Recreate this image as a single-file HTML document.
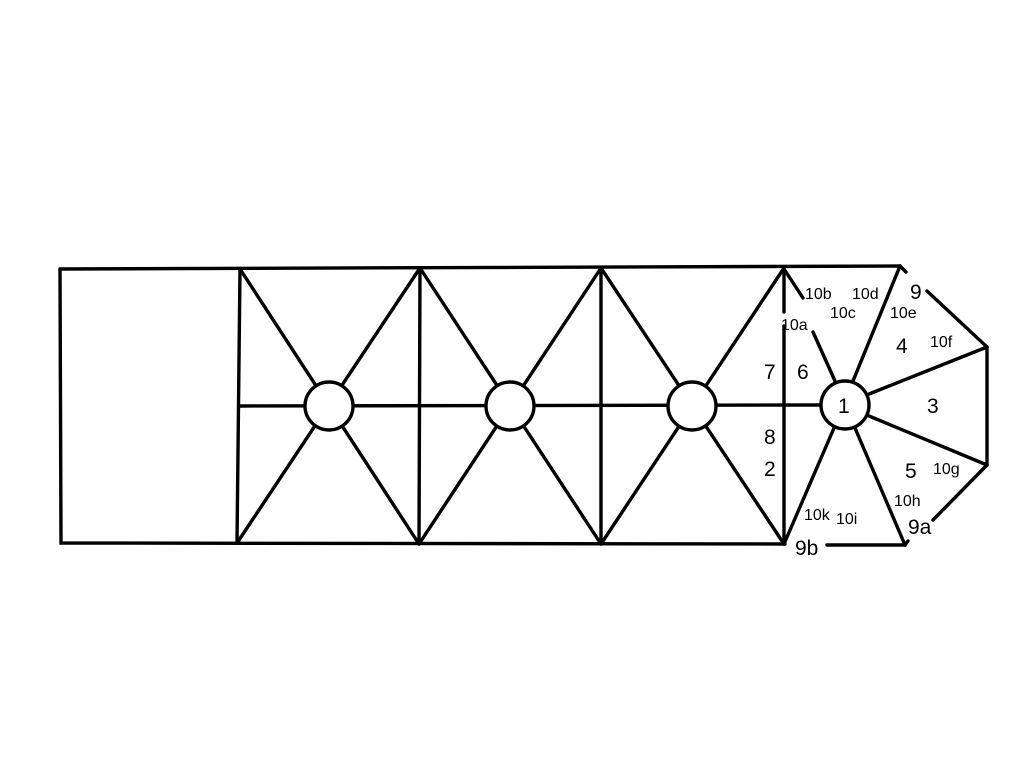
<!DOCTYPE html>
<html><head><style>
html,body{margin:0;padding:0;background:#fff;}
svg{display:block}
text{font-family:"Liberation Sans",sans-serif;fill:#000;}
</style></head><body>
<svg width="1024" height="768" viewBox="0 0 1024 768" xmlns="http://www.w3.org/2000/svg">
<g stroke="#000" stroke-width="3.4" fill="none" stroke-linecap="round">
<polyline points="60,269 900,266"/>
<polyline points="60,269 61,543 785,544"/>
<line x1="827" y1="545" x2="905" y2="545"/>
<line x1="905" y1="545" x2="908" y2="541"/>
<line x1="900" y1="266" x2="906" y2="272"/>
<line x1="927" y1="291" x2="987" y2="347"/>
<line x1="987" y1="347" x2="987" y2="465"/>
<line x1="987" y1="465" x2="933" y2="520"/>
<line x1="240" y1="269" x2="237" y2="543"/>
<line x1="420" y1="268" x2="419" y2="544"/>
<line x1="601" y1="268" x2="601" y2="544"/>
<line x1="784" y1="268" x2="784" y2="312"/>
<line x1="784" y1="326" x2="784" y2="544"/>
<line x1="240" y1="406" x2="821" y2="405"/>
<line x1="240" y1="269" x2="419" y2="544"/>
<line x1="420" y1="268" x2="237" y2="543"/>
<line x1="420" y1="268" x2="601" y2="544"/>
<line x1="601" y1="268" x2="419" y2="544"/>
<line x1="601" y1="268" x2="784" y2="544"/>
<line x1="784" y1="268" x2="601" y2="544"/>
<line x1="784" y1="269" x2="803" y2="298"/>
<line x1="813" y1="332" x2="835" y2="381"/>
<line x1="853" y1="381" x2="900" y2="266"/>
<line x1="869" y1="394" x2="987" y2="347"/>
<line x1="869" y1="416" x2="987" y2="465"/>
<line x1="855" y1="428" x2="905" y2="545"/>
<line x1="834" y1="428" x2="784" y2="544"/>
</g>
<g stroke="#000" stroke-width="3.4" fill="#fff">
<circle cx="329" cy="406" r="24"/>
<circle cx="510" cy="406" r="24"/>
<circle cx="692" cy="406" r="24"/>
<circle cx="845" cy="405" r="24"/>
</g>
<g font-size="21">
<text x="838" y="413">1</text>
<text x="927" y="413">3</text>
<text x="896" y="353">4</text>
<text x="905" y="478">5</text>
<text x="797" y="379">6</text>
<text x="764" y="379">7</text>
<text x="764" y="444">8</text>
<text x="764" y="476">2</text>
<text x="910" y="299">9</text>
<text x="908" y="534">9a</text>
<text x="795" y="555">9b</text>
</g>
<g font-size="16">
<text x="781" y="330">10a</text>
<text x="805" y="299">10b</text>
<text x="830" y="318">10c</text>
<text x="852" y="299">10d</text>
<text x="890" y="318">10e</text>
<text x="930" y="347">10f</text>
<text x="933" y="474">10g</text>
<text x="894" y="506">10h</text>
<text x="836" y="524">10i</text>
<text x="804" y="520">10k</text>
</g>
</svg>
</body></html>
